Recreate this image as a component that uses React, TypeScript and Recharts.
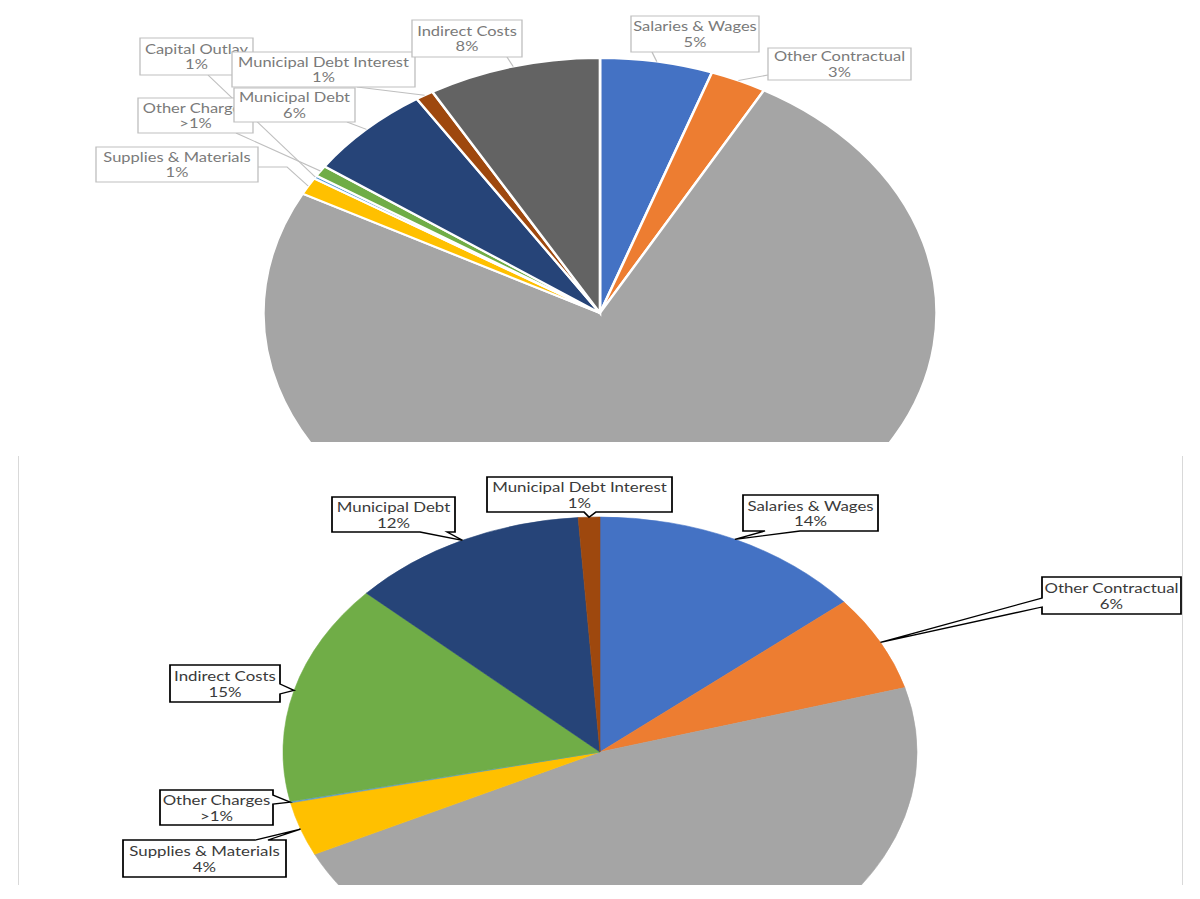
import React from 'react';
import { PieChart, Pie, Cell } from 'recharts';

// ---------- Top chart data ----------
const topNames = [
  'Salaries & Wages',
  'Other Contractual',
  'Contractual Services',
  'Supplies & Materials',
  'Capital Outlay',
  'Other Charges',
  'Municipal Debt',
  'Municipal Debt Interest',
  'Indirect Costs',
];
const topValues = [5.4, 2.7, 74.7, 1.1, 0.2, 0.7, 6.1, 0.86, 8.3];
const topPercentLabels = ['5%', '3%', '', '1%', '1%', '>1%', '6%', '1%', '8%'];
const topColors = ['#4472C4', '#ED7D31', '#A5A5A5', '#FFC000', '#5B9BD5', '#70AD47', '#264478', '#9E480E', '#636363'];

// ---------- Bottom chart data ----------
const bottomNames = [
  'Salaries & Wages',
  'Other Contractual',
  'Contractual Services',
  'Supplies & Materials',
  'Other Charges',
  'Indirect Costs',
  'Municipal Debt',
  'Municipal Debt Interest',
];
const bottomValues = [14.0, 6.6, 47.3, 3.7, 0.1, 15.2, 12.1, 1.1];
const bottomPercentLabels = ['14%', '6%', '', '4%', '>1%', '15%', '12%', '1%'];
const bottomColors = ['#4472C4', '#ED7D31', '#A5A5A5', '#FFC000', '#5B9BD5', '#70AD47', '#264478', '#9E480E'];

// ---------- Layout (page pixel coordinates) ----------
const RAD = Math.PI / 180;
const TOP_SX = 1.32;
const TOP_H = 442;
const BOT_SX = 1.349;
const BOT_TOP = 450;
const BOT_H = 435;

type TopLayout = { box: [number, number, number, number]; attach: [number, number]; via?: [number, number][] };
const topLabelLayout: Record<string, TopLayout> = {
  'Salaries & Wages': { box: [631, 16, 128, 36], attach: [652, 52] },
  'Other Contractual': { box: [768, 48, 143, 32], attach: [768, 75] },
  'Supplies & Materials': { box: [96, 147, 162, 35], attach: [258, 167], via: [[287, 167]] },
  'Capital Outlay': { box: [140, 38, 113, 37], attach: [208, 75] },
  'Other Charges': { box: [138, 98, 115, 35], attach: [236, 133] },
  'Municipal Debt': { box: [234, 88, 121, 34], attach: [347, 122] },
  'Municipal Debt Interest': { box: [232, 52, 183, 35], attach: [357, 87] },
  'Indirect Costs': { box: [412, 20, 110, 37], attach: [507, 57] },
};

type Side = 'top' | 'right' | 'bottom' | 'left';
type CalloutLayout = { box: [number, number, number, number]; side: Side; base: [number, number] };
const bottomLabelLayout: Record<string, CalloutLayout> = {
  'Salaries & Wages': { box: [743, 495, 135, 36], side: 'bottom', base: [765, 800] },
  'Other Contractual': { box: [1042, 577, 139, 37], side: 'left', base: [598, 607] },
  'Supplies & Materials': { box: [123, 840, 163, 37], side: 'top', base: [255, 268] },
  'Other Charges': { box: [160, 790, 113, 35], side: 'right', base: [795, 804] },
  'Indirect Costs': { box: [170, 665, 110, 37], side: 'right', base: [684, 694] },
  'Municipal Debt': { box: [332, 497, 123, 35], side: 'bottom', base: [420, 447] },
  'Municipal Debt Interest': { box: [487, 477, 185, 35], side: 'bottom', base: [584, 596] },
};

const FONT = 'Lato, "Open Sans", sans-serif';
const TOP_FS = 12.5;
const BOT_FS = 12.5;

function anchorOf(props: any) {
  const { cx, cy, midAngle, outerRadius } = props;
  return [cx + outerRadius * Math.cos(-midAngle * RAD), cy + outerRadius * Math.sin(-midAngle * RAD)];
}

function nameOf(props: any, names: string[]) {
  if (typeof props.index === 'number' && names[props.index]) return names[props.index];
  return props.payload?.name ?? props.name;
}

function renderTopLabel(props: any) {
  const name = nameOf(props, topNames);
  const lay = topLabelLayout[name];
  if (!lay) return null;
  const idx = topNames.indexOf(name);
  const [ax, ay] = anchorOf(props);
  const tx = (x: number) => x / TOP_SX;
  const [bx, by, bw, bh] = lay.box;
  const pts: [number, number][] = [[ax, ay]];
  (lay.via || []).slice().reverse().forEach((p) => pts.push([tx(p[0]), p[1]]));
  pts.push([tx(lay.attach[0]), lay.attach[1]]);
  const cyText = by + bh / 2;
  return (
    <g key={`tl-${idx}`}>
      <polyline points={pts.map((p) => p.join(',')).join(' ')} fill="none" stroke="#BFBFBF" strokeWidth={1} />
      <rect x={tx(bx)} y={by} width={bw / TOP_SX} height={bh} fill="#fff" stroke="#BFBFBF" strokeWidth={1} />
      <text x={tx(bx + bw / 2)} y={cyText - 7.5} textAnchor="middle" dominantBaseline="central" fontFamily={FONT} fontSize={TOP_FS} fill="#7A7A7A">
        {name}
      </text>
      <text x={tx(bx + bw / 2)} y={cyText + 8} textAnchor="middle" dominantBaseline="central" fontFamily={FONT} fontSize={TOP_FS} fill="#7A7A7A">
        {topPercentLabels[idx]}
      </text>
    </g>
  );
}

function calloutPath(lay: CalloutLayout, ax: number, ay: number) {
  const [X, Y, W, H] = lay.box;
  const tx = (x: number) => x / BOT_SX;
  const ty = (y: number) => y - BOT_TOP;
  const [p, q] = lay.base;
  const a = `${ax},${ay}`;
  let d = `M${tx(X)},${ty(Y)} `;
  if (lay.side === 'top') d += `L${tx(p)},${ty(Y)} L${a} L${tx(q)},${ty(Y)} `;
  d += `L${tx(X + W)},${ty(Y)} `;
  if (lay.side === 'right') d += `L${tx(X + W)},${ty(p)} L${a} L${tx(X + W)},${ty(q)} `;
  d += `L${tx(X + W)},${ty(Y + H)} `;
  if (lay.side === 'bottom') d += `L${tx(q)},${ty(Y + H)} L${a} L${tx(p)},${ty(Y + H)} `;
  d += `L${tx(X)},${ty(Y + H)} `;
  if (lay.side === 'left') d += `L${tx(X)},${ty(q)} L${a} L${tx(X)},${ty(p)} `;
  d += 'Z';
  return d;
}

function renderBottomLabel(props: any) {
  const name = nameOf(props, bottomNames);
  const lay = bottomLabelLayout[name];
  if (!lay) return null;
  const idx = bottomNames.indexOf(name);
  const [ax, ay] = anchorOf(props);
  const [bx, by, bw, bh] = lay.box;
  const cxText = (bx + bw / 2) / BOT_SX;
  const cyText = by + bh / 2 - BOT_TOP;
  return (
    <g key={`bl-${idx}`}>
      <path d={calloutPath(lay, ax, ay)} fill="#fff" stroke="#000" strokeWidth={1.3} strokeLinejoin="miter" />
      <text x={cxText} y={cyText - 7.5} textAnchor="middle" dominantBaseline="central" fontFamily={FONT} fontSize={BOT_FS} fill="#3A3A3A">
        {name}
      </text>
      <text x={cxText} y={cyText + 8} textAnchor="middle" dominantBaseline="central" fontFamily={FONT} fontSize={BOT_FS} fill="#3A3A3A">
        {bottomPercentLabels[idx]}
      </text>
    </g>
  );
}

export default function App() {
  const topData = topNames.map((name, i) => ({ name, value: topValues[i] }));
  const bottomData = bottomNames.map((name, i) => ({ name, value: bottomValues[i] }));
  const topW = 1200 / TOP_SX;
  const botW = 1200 / BOT_SX;
  return (
    <div style={{ position: 'absolute', left: 0, top: 0, width: 1200, height: 899, background: '#fff', overflow: 'hidden' }}>
      {/* Top chart */}
      <div style={{ position: 'absolute', left: 0, top: 0, width: 1200, height: TOP_H, overflow: 'hidden' }}>
        <div style={{ width: topW, height: TOP_H, transform: `scaleX(${TOP_SX})`, transformOrigin: '0 0' }}>
          <PieChart width={topW} height={TOP_H} margin={{ top: 0, right: 0, bottom: 0, left: 0 }}>
            <Pie
              data={topData}
              dataKey="value"
              nameKey="name"
              cx={600 / TOP_SX}
              cy={313}
              outerRadius={255}
              startAngle={90}
              endAngle={-270}
              stroke="#fff"
              strokeWidth={2}
              isAnimationActive={false}
              labelLine={false}
              label={renderTopLabel}
            >
              {topData.map((d, i) => (
                <Cell key={d.name} fill={topColors[i]} stroke="#fff" strokeWidth={2} />
              ))}
            </Pie>
          </PieChart>
        </div>
      </div>

      {/* Bottom chart frame */}
      <div
        style={{
          position: 'absolute',
          left: 18,
          top: 456,
          width: 1163,
          height: 429,
          borderLeft: '1px solid #D9D9D9',
          borderRight: '1px solid #D9D9D9',
        }}
      />

      {/* Bottom chart */}
      <div style={{ position: 'absolute', left: 0, top: BOT_TOP, width: 1182, height: BOT_H, overflow: 'hidden' }}>
        <div style={{ width: botW, height: BOT_H, transform: `scaleX(${BOT_SX})`, transformOrigin: '0 0' }}>
          <PieChart width={botW} height={BOT_H} margin={{ top: 0, right: 0, bottom: 0, left: 0 }}>
            <Pie
              data={bottomData}
              dataKey="value"
              nameKey="name"
              cx={600 / BOT_SX}
              cy={752 - BOT_TOP}
              outerRadius={235}
              startAngle={90}
              endAngle={-270}
              isAnimationActive={false}
              labelLine={false}
              label={renderBottomLabel}
            >
              {bottomData.map((d, i) => (
                <Cell key={d.name} fill={bottomColors[i]} stroke={bottomColors[i]} strokeWidth={0.5} />
              ))}
            </Pie>
          </PieChart>
        </div>
      </div>
    </div>
  );
}
